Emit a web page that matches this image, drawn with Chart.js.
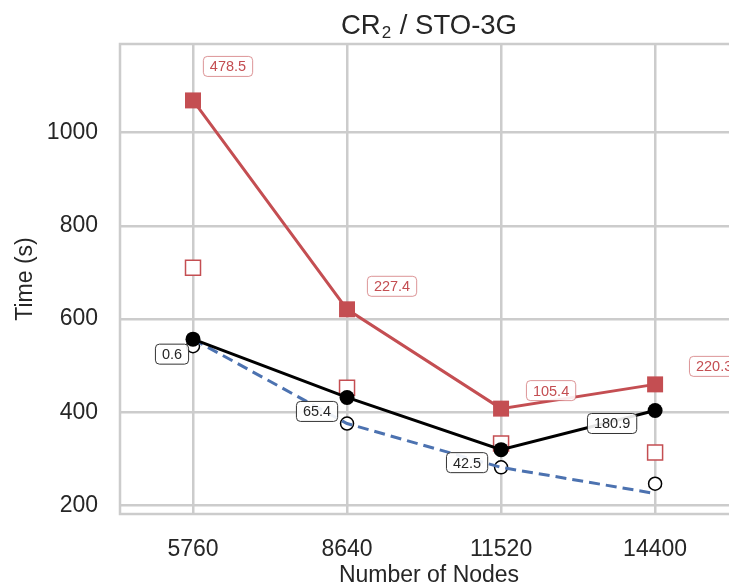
<!DOCTYPE html>
<html>
<head>
<meta charset="utf-8">
<script src="https://cdn.jsdelivr.net/npm/chart.js@4/dist/chart.umd.min.js"></script>
<style>
  html, body { margin: 0; padding: 0; background: #fff; overflow: hidden; }
  #wrap { width: 760px; height: 587px; }
</style>
</head>
<body>
<div id="wrap"><canvas id="chart"></canvas></div>
<script>
// values
const nodes = [5760, 8640, 11520, 14400];
const redTime = [1069, 621, 408, 460];
const redHollow = [710, 453, 333, 314];
const blackTime = [557, 432, 320, 404];
const blueTime = [557, 376, 282, 226];
const hollowCircle = [542, 376, 282, 247];
const redLabels = ["478.5", "227.4", "105.4", "220.3"];
const blackLabels = ["0.6", "65.4", "42.5", "180.9"];
const yTicks = [200, 400, 600, 800, 1000];

const RED = "#C44E52";
const BLUE = "#4C72B0";
const GRID = "#cccccc";
const TEXT = "#262626";
const FONT = '"Liberation Sans", Arial, sans-serif';

const pts = (vals) => nodes.map((n, i) => ({ x: n, y: vals[i] }));

// label box offsets from their anchor point (pixels)
const redOffsets = [[35, -34], [45, -23], [50, -18], [59, -18]];
const blackOffsets = [[-21, 15], [-30, 14], [-34, 13], [-43, 13]];

const frame = {
  id: "frame",
  beforeDatasetsDraw(chart) {
    const { ctx, chartArea: a } = chart;
    ctx.save();
    ctx.strokeStyle = GRID;
    ctx.lineWidth = 2.5;
    ctx.strokeRect(a.left, a.top, a.right - a.left, a.bottom - a.top);
    ctx.restore();
  },
};

// title with a real subscript, centred over the plot area
const subTitle = {
  id: "subTitle",
  afterDraw(chart) {
    const { ctx, chartArea: a } = chart;
    const big = "27.5px " + FONT;
    const small = "17px " + FONT;
    ctx.save();
    ctx.fillStyle = TEXT;
    ctx.textBaseline = "alphabetic";
    ctx.textAlign = "left";
    ctx.font = big;
    const w1 = ctx.measureText("CR").width;
    const w3 = ctx.measureText(" / STO-3G").width;
    ctx.font = small;
    const w2 = ctx.measureText("2").width + 2;
    let x = (a.left + a.right) / 2 - (w1 + w2 + w3) / 2;
    ctx.font = big;
    ctx.fillText("CR", x, 34);
    ctx.font = small;
    ctx.fillText("2", x + w1 + 1, 38);
    ctx.font = big;
    ctx.fillText(" / STO-3G", x + w1 + w2, 34);
    ctx.restore();
  },
};

const boxLabels = {
  id: "boxLabels",
  afterDatasetsDraw(chart) {
    const { ctx, scales: { x, y } } = chart;
    ctx.save();
    ctx.font = "14.5px " + FONT;
    ctx.textAlign = "center";
    ctx.textBaseline = "middle";
    const draw = (texts, values, offsets, stroke, color) => {
      texts.forEach((t, i) => {
        const cx = x.getPixelForValue(nodes[i]) + offsets[i][0];
        const cy = y.getPixelForValue(values[i]) + offsets[i][1];
        const w = ctx.measureText(t).width + 13;
        const h = 20;
        ctx.beginPath();
        ctx.roundRect(cx - w / 2, cy - h / 2, w, h, 4);
        ctx.fillStyle = "rgba(255,255,255,0.9)";
        ctx.fill();
        ctx.lineWidth = 1;
        ctx.strokeStyle = stroke;
        ctx.stroke();
        ctx.fillStyle = color;
        ctx.fillText(t, cx, cy + 1);
      });
    };
    draw(redLabels, redTime, redOffsets, "rgba(196,78,82,0.6)", RED);
    draw(blackLabels, blackTime, blackOffsets, "#333333", TEXT);
    ctx.restore();
  },
};

new Chart(document.getElementById("chart"), {
  type: "line",
  data: {
    datasets: [
      {
        data: pts(redTime),
        borderColor: RED,
        backgroundColor: RED,
        borderWidth: 3,
        pointStyle: "rect",
        pointRadius: 11.3,
        pointBorderWidth: 0,
      },
      {
        data: pts(blackTime),
        borderColor: "#000",
        backgroundColor: "#000",
        borderWidth: 3,
        pointRadius: 7.5,
        pointBorderWidth: 0,
      },
      {
        data: pts(blueTime),
        borderColor: BLUE,
        borderWidth: 3,
        borderDash: [11, 6],
        pointRadius: 0,
      },
      {
        data: pts(hollowCircle),
        showLine: false,
        borderColor: "#000",
        backgroundColor: "#fff",
        pointRadius: 6.5,
        pointBorderWidth: 1.5,
      },
      {
        data: pts(redHollow),
        showLine: false,
        borderColor: RED,
        backgroundColor: "#fff",
        pointStyle: "rect",
        pointRadius: 10.6,
        pointBorderWidth: 1.5,
      },
    ],
  },
  options: {
    responsive: true,
    maintainAspectRatio: false,
    animation: false,
    layout: { padding: { top: 44, right: 22 } },
    plugins: {
      legend: { display: false },
      tooltip: { enabled: false },
      title: { display: false },
    },
    scales: {
      x: {
        type: "linear",
        min: 4395,
        max: 15950,
        afterBuildTicks: (s) => { s.ticks = nodes.map((v) => ({ value: v })); },
        afterFit: (s) => { s.height = 73; },
        grid: { color: GRID, lineWidth: 2.5, drawTicks: false },
        border: { display: false },
        ticks: {
          color: TEXT,
          font: { size: 23, family: FONT },
          padding: 22,
          callback: (v) => String(v),
        },
        title: {
          display: true,
          text: "Number of Nodes",
          color: TEXT,
          font: { size: 23, family: FONT, lineHeight: 1 },
          padding: { top: 0, bottom: 0 },
        },
      },
      y: {
        min: 182,
        max: 1190,
        afterBuildTicks: (s) => { s.ticks = yTicks.map((v) => ({ value: v })); },
        afterFit: (s) => { s.width = 120; },
        grid: { color: GRID, lineWidth: 2.5, drawTicks: false },
        border: { display: false },
        ticks: {
          color: TEXT,
          font: { size: 23, family: FONT },
          padding: 22,
          callback: (v) => String(v),
        },
        title: {
          display: true,
          text: "Time (s)",
          color: TEXT,
          font: { size: 23, family: FONT, lineHeight: 1 },
          padding: { top: 14, bottom: 0 },
        },
      },
    },
  },
  plugins: [frame, boxLabels, subTitle],
});
</script>
</body>
</html>
